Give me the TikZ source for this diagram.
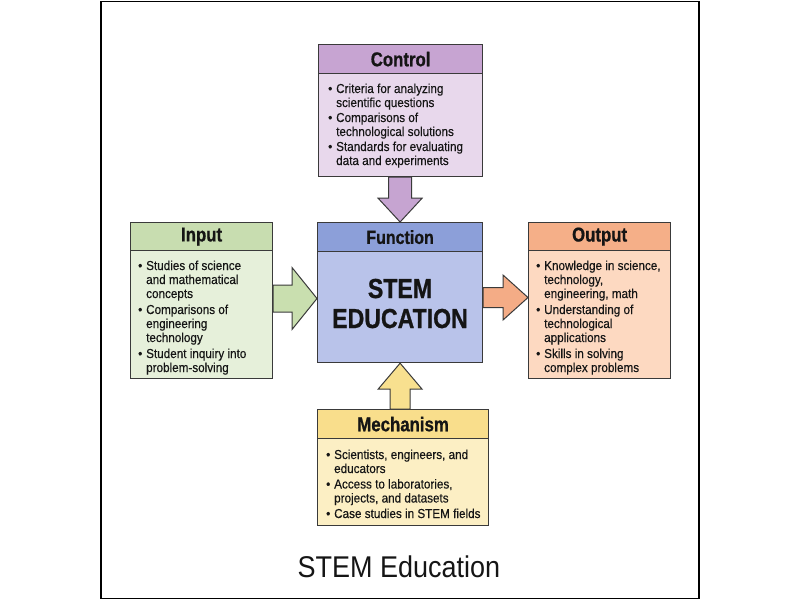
\documentclass[tikz,border=0pt]{standalone}
\usepackage{fontspec}
\setmainfont{Liberation Sans}[FakeStretch=0.9, FakeBold=0.25]
\newfontfamily\titlefont{Liberation Sans}[FakeStretch=0.9]
\newfontfamily\hfont{Liberation Sans Bold}[FakeStretch=0.84, FakeBold=0.8]
\usetikzlibrary{calc}
\definecolor{bordercol}{HTML}{3A3A3A}
\definecolor{txt}{HTML}{151515}
\definecolor{ctrlH}{HTML}{C7A4D2}
\definecolor{ctrlB}{HTML}{E8D8EC}
\definecolor{ctrlA}{HTML}{C6A4D1}
\definecolor{inH}{HTML}{C8DDB0}
\definecolor{inB}{HTML}{E6F0DA}
\definecolor{inA}{HTML}{C9DFAF}
\definecolor{funcH}{HTML}{8C9FD9}
\definecolor{funcB}{HTML}{B9C3EA}
\definecolor{outH}{HTML}{F5AF88}
\definecolor{outB}{HTML}{FDD9C1}
\definecolor{outA}{HTML}{F4AC86}
\definecolor{mechH}{HTML}{F9DE8C}
\definecolor{mechB}{HTML}{FCEFC4}
\definecolor{mechA}{HTML}{F8E08F}
\newcommand\bl{\makebox[8pt][l]{•}}
\newcommand\ind{\hspace*{8pt}}
\tikzset{
  box/.style={draw=bordercol, line width=1.2pt, inner sep=0pt, anchor=north west},
  hdr/.style={box, font=\hfont\fontsize{20}{24}\selectfont, text=txt},
  blk/.style={draw=bordercol, line width=1pt, line join=miter},
  bodytext/.style={inner sep=0pt, anchor=base west, font=\fontsize{13}{14}\selectfont, text=txt},
}
\begin{document}
\begin{tikzpicture}[x=1pt,y=-1pt]
\useasboundingbox (0,0) rectangle (800,600);
\node[draw=black, line width=1.5pt, minimum width=598pt, minimum height=597pt, inner sep=0pt, anchor=north west] (frame) at (100,0.75) {};

% Control
\node[box, fill=ctrlB, minimum width=164pt, minimum height=103pt] (ctrlb) at (318,73) {};
\node[hdr, fill=ctrlH, minimum width=164pt, minimum height=29pt] (ctrlh) at (318,44) {Control};
\node[bodytext] (ctrlt) at (328,93) {\begin{tabular}[t]{@{}l@{}}
\bl Criteria for analyzing\\ \ind scientific questions\\[1pt]
\bl Comparisons of\\ \ind technological solutions\\[1pt]
\bl Standards for evaluating\\ \ind data and experiments\end{tabular}};

% Input
\node[box, fill=inB, minimum width=142pt, minimum height=128pt] (inb) at (130,250) {};
\node[hdr, fill=inH, minimum width=142pt, minimum height=28pt] (inh) at (130,222) {Input};
\node[bodytext] (int) at (138,270) {\begin{tabular}[t]{@{}l@{}}
\bl Studies of science\\ \ind and mathematical\\ \ind concepts\\[2pt]
\bl Comparisons of\\ \ind engineering\\ \ind technology\\[2pt]
\bl Student inquiry into\\ \ind problem-solving\end{tabular}};

% Function
\node[box, fill=funcB, minimum width=165pt, minimum height=111pt] (funcb) at (317,251) {};
\node[hdr, fill=funcH, minimum width=165pt, minimum height=29pt, font=\hfont\fontsize{19}{23}\selectfont] (funch) at (317,222) {Function};
\node[inner sep=0pt, anchor=base, align=center, text=txt, font=\hfont\fontsize{27.5}{30}\selectfont] (funct) at (400,328) {STEM\\EDUCATION};

% Output
\node[box, fill=outB, minimum width=142pt, minimum height=128pt] (outb) at (528,250) {};
\node[hdr, fill=outH, minimum width=142pt, minimum height=28pt] (outh) at (528,222) {Output};
\node[bodytext] (outt) at (536,270) {\begin{tabular}[t]{@{}l@{}}
\bl Knowledge in science,\\ \ind technology,\\ \ind engineering, math\\[2pt]
\bl Understanding of\\ \ind technological\\ \ind applications\\[2pt]
\bl Skills in solving\\ \ind complex problems\end{tabular}};

% Mechanism
\node[box, fill=mechB, minimum width=171pt, minimum height=87pt] (mechb) at (317,438) {};
\node[hdr, fill=mechH, minimum width=171pt, minimum height=29pt] (mechh) at (317,409) {Mechanism};
\node[bodytext] (mecht) at (326,459) {\begin{tabular}[t]{@{}l@{}}
\bl Scientists, engineers, and\\ \ind educators\\[1.5pt]
\bl Access to laboratories,\\ \ind projects, and datasets\\[1.5pt]
\bl Case studies in STEM fields\end{tabular}};

% Block arrows
\coordinate (cTop) at (funch.north |- ctrlb.south);
\draw[blk, fill=ctrlA] ($(cTop)+(-11.5,0)$) -- ($(cTop)+(-11.5,21)$) -- ($(cTop)+(-22,21)$)
  -- (funch.north) -- ($(cTop)+(22,21)$) -- ($(cTop)+(11.5,21)$) -- ($(cTop)+(11.5,0)$) -- cycle;

\coordinate (mBot) at (funcb.south |- mechh.north);
\draw[blk, fill=mechA] ($(mBot)+(-10,0)$) -- ($(funcb.south)+(-10,26)$) -- ($(funcb.south)+(-22,26)$)
  -- (funcb.south) -- ($(funcb.south)+(22,26)$) -- ($(funcb.south)+(10,26)$) -- ($(mBot)+(10,0)$) -- cycle;

\coordinate (iTail) at ($(inh.north east)+(0,76.5)$);
\coordinate (iTip) at (funcb.west |- iTail);
\draw[blk, fill=inA] ($(iTail)+(0,-13.5)$) -- ($(iTip)+(-25,-13.5)$) -- ($(iTip)+(-25,-31)$)
  -- (iTip) -- ($(iTip)+(-25,31)$) -- ($(iTip)+(-25,13.5)$) -- ($(iTail)+(0,13.5)$) -- cycle;

\coordinate (oTail) at ($(funcb.north east)+(0,46.5)$);
\coordinate (oTip) at (outb.west |- oTail);
\draw[blk, fill=outA] ($(oTail)+(0,-10)$) -- ($(oTip)+(-25,-10)$) -- ($(oTip)+(-25,-22.5)$)
  -- (oTip) -- ($(oTip)+(-25,22.5)$) -- ($(oTip)+(-25,10)$) -- ($(oTail)+(0,10)$) -- cycle;

% Title
\node[inner sep=0pt, anchor=base, text=txt, font=\titlefont\fontsize{30}{36}\selectfont] (title) at (399,577) {STEM Education};
\end{tikzpicture}
\end{document}
